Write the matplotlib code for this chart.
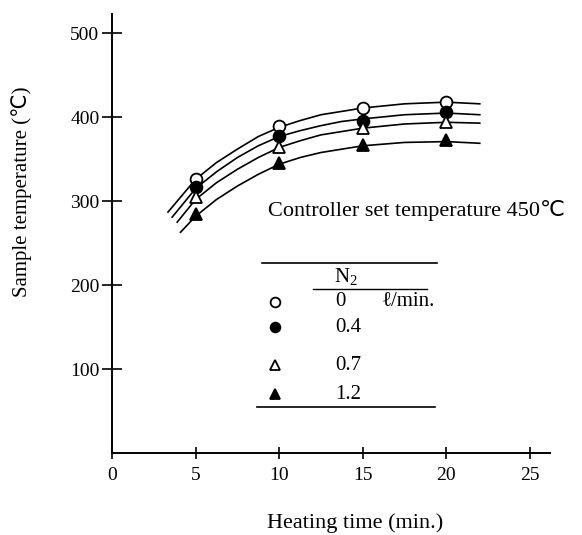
import numpy as np
import matplotlib.pyplot as plt

plt.rcParams['font.family'] = ['Liberation Serif', 'DejaVu Sans']
plt.rcParams['mathtext.fontset'] = 'custom'
plt.rcParams['mathtext.rm'] = 'Liberation Serif'

# measured points (heating time in min, temperature in C)
t_pts = [5, 10, 15, 20]
T_n0 = [327, 390, 411, 418]
T_n04 = [317, 378, 396, 406]
T_n07 = [305, 364, 387, 394]
T_n12 = [285, 346, 367, 373]

# fitted curves
c_t = [3.35, 5, 6.25, 7.5, 8.75, 10, 11.25, 12.5, 13.75, 15, 17.5, 20, 22]
c_n0_T = [287, 326, 346, 362, 377, 388, 396, 403, 407, 411, 416, 418, 416]
c_n04_t = [3.6, 5, 6.25, 7.5, 8.75, 10, 11.25, 12.5, 13.75, 15, 17.5, 20, 22]
c_n04_T = [281, 315, 335, 352, 366, 377, 384, 390, 395, 398, 403, 405, 403]
c_n07_t = [3.9, 5, 6.25, 7.5, 8.75, 10, 11.25, 12.5, 13.75, 15, 17.5, 20, 22]
c_n07_T = [275, 302, 322, 338, 352, 364, 372, 379, 383, 387, 392, 394, 393]
c_n12_t = [4.1, 5, 6.25, 7.5, 8.75, 10, 11.25, 12.5, 13.75, 15, 17.5, 20, 22]
c_n12_T = [263, 282, 302, 318, 332, 344, 352, 358, 362, 366, 370, 371, 369]

flows = ['0', '0.4', '0.7', '1.2']
xticks = [0, 5, 10, 15, 20, 25]
yticks = [100, 200, 300, 400, 500]

fig = plt.figure(figsize=(5.82, 5.35), dpi=100)
ax = fig.add_axes([0.1924, 0.1533, 0.7526, 0.8205])
ax.set_xlim(0, 26.2)
ax.set_ylim(0, 523)

for ct, cT in [(c_t, c_n0_T), (c_n04_t, c_n04_T), (c_n07_t, c_n07_T), (c_n12_t, c_n12_T)]:
    ax.plot(ct, cT, color='black', lw=1.2, zorder=2)

mk = [('o', 'white'), ('o', 'black'), ('^', 'white'), ('^', 'black')]
for (m, fc), T in zip(mk, [T_n0, T_n04, T_n07, T_n12]):
    ax.plot(t_pts, T, m, mfc=fc, mec='black', mew=1.3, ms=8.5, zorder=3)

ax.spines['top'].set_visible(False)
ax.spines['right'].set_visible(False)
ax.spines['left'].set_linewidth(1.4)
ax.spines['bottom'].set_linewidth(1.4)
ax.set_xticks(xticks)
ax.set_yticks(yticks)
ax.tick_params(axis='x', direction='inout', length=8, width=1.2, labelsize=14, pad=6)
ax.tick_params(axis='y', direction='inout', length=14, width=1.2, labelsize=14, pad=2)
ax.set_xlabel('Heating time (min.)', fontsize=16)
ax.xaxis.set_label_coords(0.555, -0.137)
ax.set_ylabel('Sample temperature (℃)', fontsize=15)
ax.yaxis.set_label_coords(-0.183, 0.595)

ax.text(0.356, 0.553, 'Controller set temperature 450℃', transform=ax.transAxes,
        fontsize=16, va='center', ha='left')

# legend table
tr = ax.transAxes
ax.plot([0.342, 0.742], [0.433, 0.433], color='black', lw=1.2, transform=tr, clip_on=False)
ax.text(0.534, 0.400, r'N$_{\mathrm{2}}$', transform=tr, fontsize=15, ha='center', va='center')
ax.plot([0.459, 0.719], [0.374, 0.374], color='black', lw=1.0, transform=tr, clip_on=False)
rows_y = [0.344, 0.287, 0.200, 0.134]
for (m, fc), lab, yy in zip(mk, flows, rows_y):
    ax.plot([0.372], [yy], m, mfc=fc, mec='black', mew=1.3, ms=7, transform=tr, clip_on=False)
    ax.text(0.509, yy, lab, transform=tr, fontsize=15, ha='left', va='center')
ax.text(0.616, rows_y[0], 'ℓ/min.', transform=tr, fontsize=15, ha='left', va='center')
ax.plot([0.331, 0.737], [0.105, 0.105], color='black', lw=1.2, transform=tr, clip_on=False)

fig.savefig('out.png', dpi=100)
